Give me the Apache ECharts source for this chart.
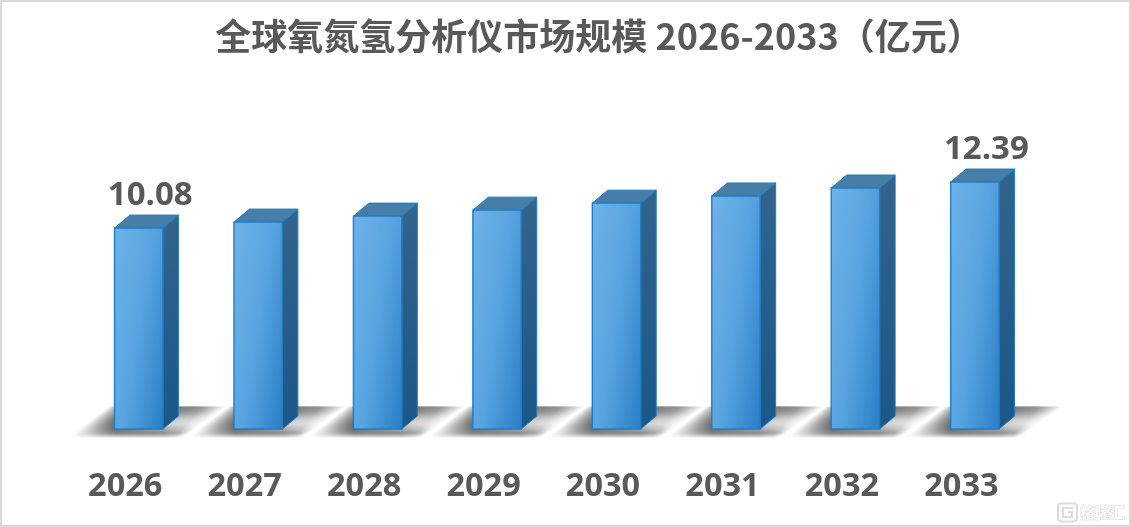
<!DOCTYPE html>
<html><head><meta charset="utf-8">
<style>html,body{margin:0;padding:0;background:#fff}#c{width:1131px;height:527px}</style>
<script src="https://cdn.jsdelivr.net/npm/echarts@6/dist/echarts.min.js"></script>
</head><body><div id="c"></div>
<script>
const titleText = '全球氧氮氢分析仪市场规模 2026-2033（亿元）';
const years = ['2026','2027','2028','2029','2030','2031','2032','2033'];
const values = [10.08,10.38,10.68,10.98,11.33,11.69,12.09,12.39];
const labelled = ['10.08','','','','','','','12.39'];
const TEXT = '#595959';
const NUMFONT = '"Open Sans","Noto Sans",sans-serif';
const chart = echarts.init(document.getElementById('c'), null, {renderer:'canvas'});

// floor-shadow opacity by row, sampled from top (0) to bottom (1) of the band
const leftProfile  = [0.30,0.48,0.66,0.80,0.90,0.90,0.72,0.12];
const rightProfile = [0.90,0.82,0.55,0.30,0.24,0.42,0.66,0.12];
function sample(p,t){
  const f=t*(p.length-1), i=Math.min(p.length-2,Math.floor(f));
  return p[i]+(p[i+1]-p[i])*(f-i);
}
function renderShadow(params, api){
  const base = api.coord([api.value(0), 0]);
  const cx = base[0], y0 = base[1];
  const kids = [];
  const rows = 31;
  for(let i=0;i<rows;i++){
    const t = (i+0.5)/rows;
    const y = y0-22.5+i;
    const xl = cx-30-40*t, xr = cx+88-44*t;
    const aL = sample(leftProfile,t), aR = sample(rightProfile,t);
    const w = xr-xl;
    const stop = x => Math.max(0,Math.min(1,(x-xl)/w));
    const c = a => 'rgba(45,45,45,'+a.toFixed(3)+')';
    const s1 = stop(cx-24), s2 = stop(cx+24), s3 = stop(cx+24+(xr-cx-24)*0.6);
    kids.push({type:'rect',shape:{x:xl,y:y,width:w,height:1.1},silent:true,style:{
      fill:new echarts.graphic.LinearGradient(xl,0,xr,0,[
        {offset:0,color:c(0)},
        {offset:s1*0.5,color:c(aL*0.5)},
        {offset:s1,color:c(aL)},
        {offset:s2,color:c(aR)},
        {offset:s3,color:c(aR*0.68)},
        {offset:1,color:c(0)}],true)}});
  }
  return {type:'group',children:kids};
}

function renderBar(params, api){
  const idx = params.dataIndex;
  const base = api.coord([api.value(0), 0]);
  const top = api.coord([api.value(0), api.value(1)]);
  const hw = 24.2, dx = 15.5, dy = 13;
  const l = base[0]-hw, r = base[0]+hw, b = base[1], t = top[1];
  const edge = '#1f7cc6';
  const gx = 0.6/(r-l), gy = 0.4/(b-t), g2 = gx*gx+gy*gy;
  const kids = [
    {type:'polygon',shape:{points:[[r,t],[r+dx,t-dy],[r+dx,b-dy],[r,b]]},
      style:{fill:new echarts.graphic.LinearGradient(0,0,0,1,[{offset:0,color:'#33648b'},{offset:1,color:'#1b5788'}]),stroke:edge,lineWidth:1}},
    {type:'polygon',shape:{points:[[l,t],[l+dx,t-dy],[r+dx,t-dy],[r,t]]},
      style:{fill:'#477ea8',stroke:edge,lineWidth:1}},
    {type:'rect',shape:{x:l,y:t,width:r-l,height:b-t},
      style:{fill:new echarts.graphic.LinearGradient(l,t,l+gx/g2,t+gy/g2,[{offset:0,color:'#6eb2e8'},{offset:0.5,color:'#58a4e0'},{offset:1,color:'#2a7ec6'}],true),stroke:edge,lineWidth:1.4}}
  ];
  if(labelled[idx]){
    kids.push({type:'text',x:base[0]+11.5,y:t-32,style:{text:labelled[idx],fill:TEXT,
      font:'bold 33px '+NUMFONT,align:'center',verticalAlign:'middle'}});
  }
  return {type:'group',children:kids};
}

const data = years.map((y,i)=>[y,values[i]]);
chart.setOption({
  animation:false,
  backgroundColor:'#fff',
  title:{text:titleText,left:594,top:13,textAlign:'center',
    textStyle:{color:TEXT,fontSize:36,fontWeight:'bold',fontFamily:'"Noto Sans CJK SC","Open Sans",sans-serif'}},
  grid:{left:79,width:955.6,top:130,height:299},
  xAxis:{type:'category',data:years,axisLine:{show:false},axisTick:{show:false},
    axisLabel:{color:TEXT,fontSize:32.5,fontWeight:'bold',fontFamily:NUMFONT,margin:41,padding:[0,27,0,0]}},
  yAxis:{type:'value',min:0,max:15,show:false,splitLine:{show:false}},
  series:[
    {type:'custom',z:1,renderItem:renderShadow,data:data,clip:false,silent:true},
    {type:'custom',z:2,renderItem:renderBar,data:data,clip:false,silent:true}
  ],
  graphic:[
    {type:'rect',z:100,silent:true,shape:{x:1,y:1,width:1129,height:525},style:{fill:'none',stroke:'#d9d9d9',lineWidth:2}},
    {type:'rect',z:100,silent:true,shape:{x:1058,y:503.5,width:19,height:18,r:3},style:{fill:'#fff',stroke:'#dcdcdc',lineWidth:2}},
    {type:'polyline',z:100,silent:true,shape:{points:[[1073,508],[1063,508],[1063,517],[1072,517],[1072,512],[1068,512]]},style:{fill:'none',stroke:'#dcdcdc',lineWidth:2}},
    {type:'text',z:100,silent:true,x:1080,y:512.5,style:{text:'格隆汇',fill:'#fff',stroke:'#d4d4d4',lineWidth:1,font:'bold 15px "Noto Sans CJK SC",sans-serif',verticalAlign:'middle'}}
  ]
});
</script></body></html>
